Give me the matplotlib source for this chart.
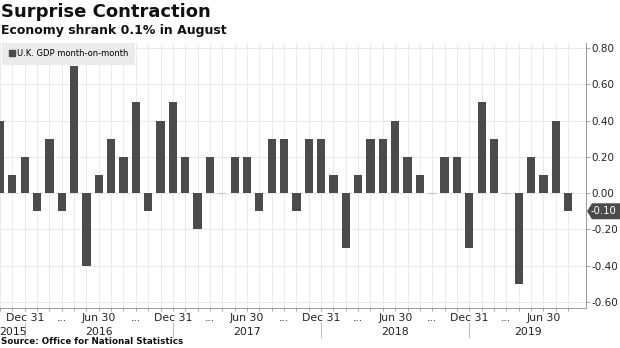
import numpy as np
import pandas as pd
import matplotlib
matplotlib.use("Agg")
import matplotlib.pyplot as plt
from matplotlib.patches import Patch, Polygon
from matplotlib.transforms import blended_transform_factory

plt.rcParams["font.family"] = ["DejaVu Sans"]
plt.rcParams["axes.unicode_minus"] = False

# monthly UK GDP growth, Oct 2015 .. Aug 2019
months = pd.date_range("2015-10-31", "2019-08-31", freq="ME")
gdp_mom = [0.4, 0.1, 0.2, -0.1, 0.3, -0.1, 0.7, -0.4, 0.1, 0.3,
           0.2, 0.5, -0.1, 0.4, 0.5, 0.2, -0.2, 0.2, 0.0, 0.2,
           0.2, -0.1, 0.3, 0.3, -0.1, 0.3, 0.3, 0.1, -0.3, 0.1,
           0.3, 0.3, 0.4, 0.2, 0.1, 0.0, 0.2, 0.2, -0.3, 0.5,
           0.3, 0.0, -0.5, 0.2, 0.1, 0.4, -0.1]
series_name = "U.K. GDP month-on-month"
yticks = [0.8, 0.6, 0.4, 0.2, 0.0, -0.2, -0.4, -0.6]
years = [2015, 2016, 2017, 2018, 2019]

bar_col = "#4b4b4b"
grid_col = "#e6e6e6"
axis_col = "#9a9a9a"

fig = plt.figure(figsize=(6.2, 3.48), dpi=100)
ax = fig.add_axes([0.0, 1 - 308 / 348, 586 / 620, (308 - 43) / 348])

x = np.arange(len(gdp_mom))
edges = ["#c4c4c4" if v == 0 else "none" for v in gdp_mom]
ax.bar(x, gdp_mom, width=0.67, color=bar_col, edgecolor=edges, linewidth=0.8, zorder=3)

x0, x1 = 0.07, len(gdp_mom) - 1 + 1.45
ax.set_xlim(x0, x1)
ax.set_ylim(-0.633, 0.827)

# y axis on the right
ax.yaxis.tick_right()
ax.set_yticks(yticks)
ax.set_yticklabels(["%.2f" % v for v in yticks])
ax.tick_params(axis="y", direction="out", length=3, width=0.6, color=axis_col,
               labelsize=7.5, labelcolor="#222222", pad=1)

# x axis: tick every month, labels every quarter
labels = []
for m in months:
    if m.month == 12:
        labels.append("Dec 31")
    elif m.month == 6:
        labels.append("Jun 30")
    elif m.month in (3, 9) and m != months[0]:
        labels.append("...")
    else:
        labels.append("")
ax.set_xticks(x)
ax.set_xticklabels(labels)
ax.tick_params(axis="x", direction="out", length=2, width=0.6, color=axis_col,
               labelsize=7.8, labelcolor="#222222", pad=1.5)

ax.grid(True, color=grid_col, linewidth=0.6, zorder=0)
ax.set_axisbelow(True)
for s in ["left", "top"]:
    ax.spines[s].set_visible(False)
for s in ["right", "bottom"]:
    ax.spines[s].set_color(axis_col)
    ax.spines[s].set_linewidth(0.7)

# year row with separators at year ends
trans = blended_transform_factory(ax.transData, ax.transAxes)
dec_idx = [i for i, m in enumerate(months) if m.month == 12]
bounds = [x0] + dec_idx + [x1]
for k, yr in enumerate(years):
    mid = (bounds[k] + bounds[k + 1]) / 2
    ax.text(mid, -0.09, str(yr), transform=trans, ha="center", va="center",
            fontsize=7.8, color="#222222")
for d in dec_idx:
    ax.plot([d, d], [-0.055, -0.11], transform=trans, color="#bbbbbb",
            linewidth=0.7, clip_on=False)

# legend
leg = ax.legend(handles=[Patch(color=bar_col, label=series_name)], loc="upper left",
                bbox_to_anchor=(0.004, 1.0), fontsize=6, frameon=True, fancybox=False,
                handlelength=0.75, handleheight=0.75, handletextpad=0.3,
                borderpad=0.75, borderaxespad=0.0)
leg.get_frame().set_facecolor("#ebebeb")
leg.get_frame().set_edgecolor("none")
leg.get_frame().set_alpha(1)

# last value tag
last = gdp_mom[-1]
ylo, yhi = ax.get_ylim()
axb, axh = 1 - 308 / 348, (308 - 43) / 348
yf = axb + (last - ylo) / (yhi - ylo) * axh
hx = 586 / 620
hh = 8 / 348
tag = Polygon([[hx + 1 / 620, yf], [hx + 6 / 620, yf + hh], [1.0, yf + hh],
               [1.0, yf - hh], [hx + 6 / 620, yf - hh]], closed=True,
              transform=fig.transFigure, facecolor=bar_col, edgecolor="none")
fig.patches.append(tag)
fig.text(hx + 5 / 620, yf, "%.2f" % last, color="white", fontsize=7.2,
         ha="left", va="center")

fig.text(0.002, 1 - 3 / 348, "Surprise Contraction", fontsize=13, fontweight="bold",
         ha="left", va="top", color="#111111")
fig.text(0.002, 1 - 24 / 348, "Economy shrank 0.1% in August", fontsize=9,
         fontweight="bold", ha="left", va="top", color="#111111")
fig.text(0.002, 1 - 342 / 348, "Source: Office for National Statistics", fontsize=6.3,
         fontweight="bold", ha="left", va="center", color="#111111")

fig.savefig("out.png", dpi=100)
